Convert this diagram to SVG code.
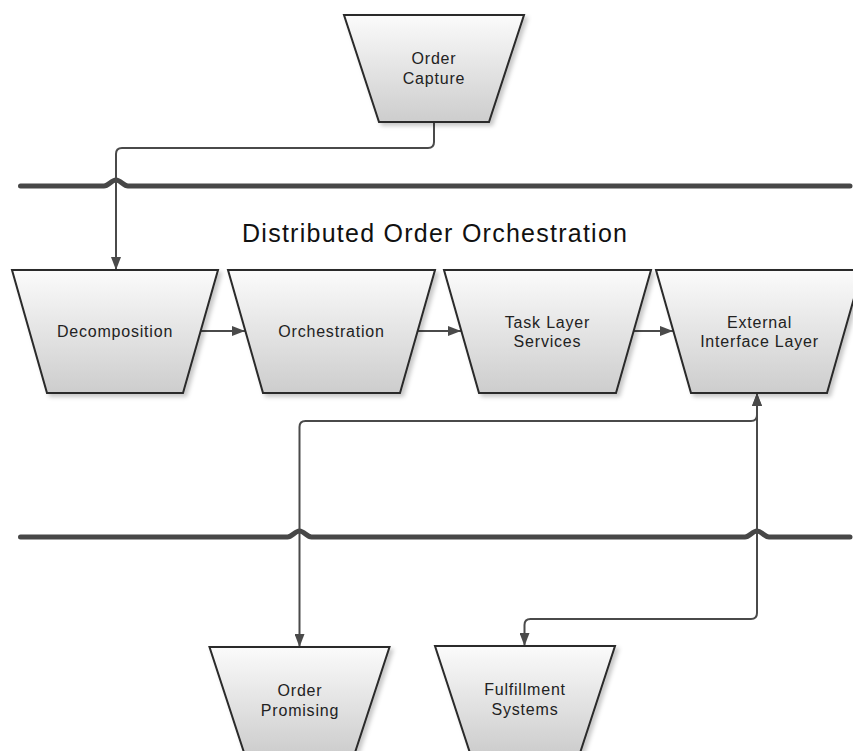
<svg xmlns="http://www.w3.org/2000/svg" width="853" height="751" viewBox="0 0 853 751">
<style>
.shape{fill:url(#g);stroke:#2a2a2a;stroke-width:2;stroke-linejoin:miter;filter:url(#sh)}
.lbl{font-family:"Liberation Sans",Arial,sans-serif;font-size:16px;fill:#222;text-anchor:middle;letter-spacing:0.8px}
.title{font-family:"Liberation Sans",Arial,sans-serif;font-size:25px;fill:#111}
.bus{fill:none;stroke:#474747;stroke-width:5;stroke-linecap:round;stroke-linejoin:round}
.con{fill:none;stroke:#4a4a4a;stroke-width:2}
.arr{marker-end:url(#ah)}
.bi{marker-start:url(#ah);marker-end:url(#ah)}
</style>
<defs>
<linearGradient id="g" x1="0" y1="0" x2="0" y2="1">
<stop offset="0" stop-color="#fbfbfb"/>
<stop offset="1" stop-color="#cdcdcd"/>
</linearGradient>
<filter id="sh" x="-10%" y="-10%" width="130%" height="130%">
<feDropShadow dx="3" dy="3" stdDeviation="2" flood-color="#000" flood-opacity="0.22"/>
</filter>
<marker id="ah" viewBox="0 0 13 10" refX="13" refY="5" markerWidth="13" markerHeight="10" markerUnits="userSpaceOnUse" orient="auto-start-reverse">
<path d="M0,0 L13,5 L0,10 z" fill="#4a4a4a"/>
</marker>
</defs>
<rect width="853" height="751" fill="#fff"/>

<g id="buses">
<path class="bus" d="M20.5,186 H104 C108.5,186 111.5,180 116,180 C120.5,180 123.5,186 128,186 H850"/>
<path class="bus" d="M20.5,537 H287.5 C292,537 295,531 299.5,531 C304,531 307,537 311.5,537 H745 C749.5,537 752.5,531 757,531 C761.5,531 764.5,537 769,537 H850"/>
</g>

<text class="title" x="242" y="241.5" textLength="385" lengthAdjust="spacing">Distributed Order Orchestration</text>

<g id="connectors">
<path class="con arr" d="M434,122 V142 Q434,148 428,148 H122 Q116,148 116,154 V270"/>
<path class="con arr" d="M201,331 H245"/>
<path class="con arr" d="M417,331 H461"/>
<path class="con arr" d="M634,331 H673"/>
<path class="con bi" d="M299.5,647 V427 Q299.5,421 305.5,421 H751 Q757,421 757,415 V393"/>
<path class="con bi" d="M524.5,646 V625 Q524.5,619 530.5,619 H751 Q757,619 757,613 V393"/>
</g>

<g id="order-capture">
<path class="shape" d="M344,15 H524 L489,122 H379 Z"/>
<text class="lbl" x="434" y="64">Order</text>
<text class="lbl" x="434" y="84">Capture</text>
</g>

<g id="decomposition">
<path class="shape" d="M12,270 H218 L183,393 H47 Z"/>
<text class="lbl" x="115" y="337">Decomposition</text>
</g>

<g id="orchestration">
<path class="shape" d="M228,270 H435 L400,393 H263 Z"/>
<text class="lbl" x="331.5" y="337">Orchestration</text>
</g>

<g id="task-layer-services">
<path class="shape" d="M444,270 H651 L616,393 H479 Z"/>
<text class="lbl" x="547.5" y="328">Task Layer</text>
<text class="lbl" x="547.5" y="347">Services</text>
</g>

<g id="external-interface-layer">
<path class="shape" d="M656,270 H862 L827,393 H691 Z"/>
<text class="lbl" x="759.5" y="328">External</text>
<text class="lbl" x="759.5" y="347">Interface Layer</text>
</g>

<g id="order-promising">
<path class="shape" d="M209.5,647 H389.5 L354.5,754 H244.5 Z"/>
<text class="lbl" x="300" y="696">Order</text>
<text class="lbl" x="300" y="716">Promising</text>
</g>

<g id="fulfillment-systems">
<path class="shape" d="M435,646 H615 L580,753 H470 Z"/>
<text class="lbl" x="525" y="695">Fulfillment</text>
<text class="lbl" x="525" y="715">Systems</text>
</g>
</svg>
